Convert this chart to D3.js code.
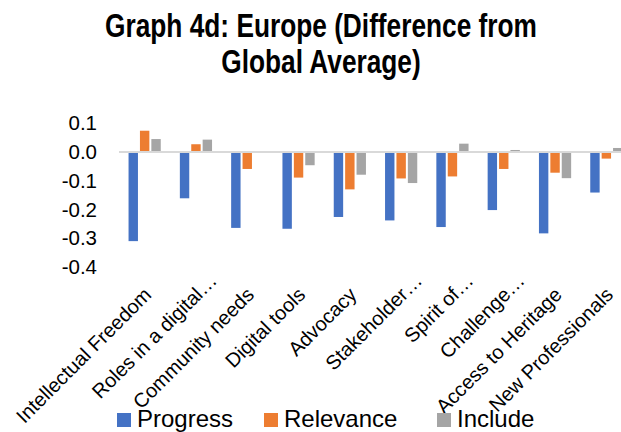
<!DOCTYPE html>
<html lang="en">
<head>
    <meta charset="UTF-8">
    <title>Graph 4d: Europe (Difference from Global Average)</title>
    <script src="https://cdnjs.cloudflare.com/ajax/libs/d3/7.8.5/d3.min.js" charset="utf-8"></script>
    <style>
        body { margin: 0; background: #fff; }
        svg { display: block; font-family: "Liberation Sans", Arial, sans-serif; }
        .title { font-family: "Liberation Sans", Arial, sans-serif; font-weight: bold; font-size: 33px; }
    </style>
</head>
<body>
<svg width="621" height="432"></svg>
<script>
    var categories = ["Intellectual Freedom", "Roles in a digital…", "Community needs", "Digital tools",
        "Advocacy", "Stakeholder…", "Spirit of…", "Challenge…", "Access to Heritage", "New Professionals"];
    var seriesNames = ["Progress", "Relevance", "Include"];
    var progress = [-0.31, -0.161, -0.264, -0.267, -0.226, -0.238, -0.261, -0.202, -0.283, -0.141];
    var relevance = [0.074, 0.027, -0.059, -0.089, -0.13, -0.092, -0.085, -0.059, -0.072, -0.023];
    var include = [0.045, 0.043, 0.0, -0.046, -0.079, -0.108, 0.029, 0.007, -0.091, 0.014];
    var yTicks = [0.1, 0.0, -0.1, -0.2, -0.3, -0.4];
    var colors = ["#4472C4", "#ED7D31", "#A5A5A5"];

    var series = [progress, relevance, include];
    var rows = categories.map(function (c, i) {
        return {cat: c, vals: series.map(function (s, j) { return {name: seriesNames[j], v: s[i]}; })};
    });

    var svg = d3.select("svg");

    // title, two lines; no narrow font installed so squeeze the group horizontally
    var title = svg.append("g").attr("transform", "translate(321,0) scale(0.796,1)");
    title.append("text").attr("class", "title")
        .attr("x", 0).attr("y", 37).attr("text-anchor", "middle")
        .text("Graph 4d: Europe (Difference from");
    title.append("text").attr("class", "title")
        .attr("x", 0).attr("y", 73).attr("text-anchor", "middle")
        .text("Global Average)");

    // plot runs past the right edge, the picture is cropped there
    var x0 = d3.scaleBand().domain(categories).range([119, 632])
        .paddingInner(1 / 3).paddingOuter(1 / 6);
    var x1 = d3.scaleBand().domain(seriesNames).range([0, x0.bandwidth()]);
    var y = d3.scaleLinear().domain([-0.4, 0.1]).range([267, 123.25]);

    var yAxis = d3.axisLeft(y).tickValues(yTicks).tickSize(0).tickPadding(22)
        .tickFormat(function (d) { return d.toFixed(1); });
    svg.append("g").attr("transform", "translate(119,0)").call(yAxis)
        .call(function (g) { g.select(".domain").remove(); })
        .selectAll("text").attr("font-size", 20.5).attr("fill", "#000")
        .attr("font-family", "Liberation Sans, Arial, sans-serif");

    var groups = svg.selectAll(".grp").data(rows).enter().append("g")
        .attr("class", "grp")
        .attr("transform", function (d) { return "translate(" + x0(d.cat) + ",0)"; });

    groups.selectAll("rect").data(function (d) { return d.vals; }).enter().append("rect")
        .attr("x", function (d) { return x1(d.name) + 1; })
        .attr("width", x1.bandwidth() - 2)
        .attr("y", function (d) { return y(Math.max(0, d.v)); })
        .attr("height", function (d) { return Math.abs(y(d.v) - y(0)); })
        .attr("fill", function (d, i) { return colors[i]; });

    // zero line
    svg.append("line")
        .attr("x1", 119).attr("x2", 632)
        .attr("y1", y(0)).attr("y2", y(0))
        .attr("stroke", "#D9D9D9").attr("stroke-width", 2);

    // category labels, rotated, the ellipsis hangs past the anchor
    var xAxis = d3.axisBottom(x0).tickSize(0).tickPadding(0);
    var xg = svg.append("g").attr("transform", "translate(0,296)").call(xAxis);
    xg.select(".domain").remove();
    xg.selectAll(".tick text")
        .attr("y", 0).attr("dy", 0)
        .attr("font-size", 20).attr("fill", "#000")
        .attr("font-family", "Liberation Sans, Arial, sans-serif")
        .attr("text-anchor", "end")
        .attr("transform", "translate(8,0) rotate(-45)")
        .text(function (d) { return d.replace("…", ""); });
    xg.selectAll(".tick").filter(function (d) { return d.indexOf("…") >= 0; })
        .append("text")
        .attr("font-size", 20).attr("fill", "#000")
        .attr("font-family", "Liberation Sans, Arial, sans-serif")
        .attr("text-anchor", "start")
        .attr("transform", "translate(8,0) rotate(-45)")
        .text("…");

    // legend
    var legendX = [117, 264, 437];
    var legend = svg.selectAll(".leg").data(seriesNames).enter().append("g")
        .attr("class", "leg")
        .attr("transform", function (d, i) { return "translate(" + legendX[i] + ",427)"; });
    legend.append("rect").attr("x", 0).attr("y", -14).attr("width", 14).attr("height", 14)
        .attr("fill", function (d, i) { return colors[i]; });
    legend.append("text").attr("x", 20).attr("y", 0)
        .attr("font-size", 24).attr("fill", "#000")
        .text(function (d) { return d; });
</script>
</body>
</html>
